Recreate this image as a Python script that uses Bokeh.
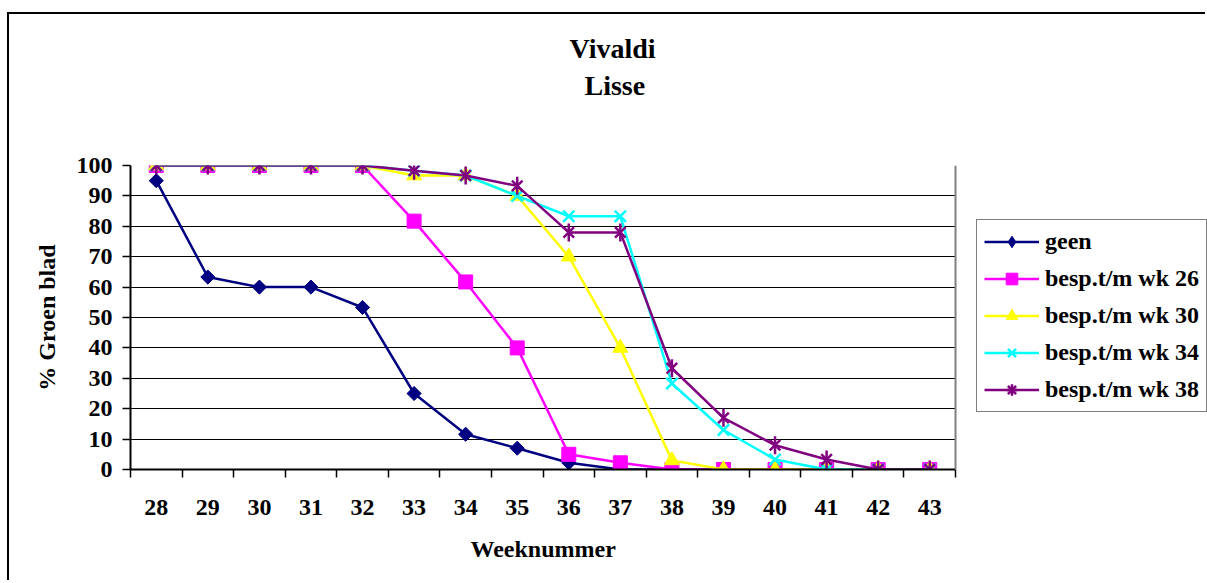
import numpy as np
from bokeh.plotting import figure
from bokeh.models import (Range1d, FixedTicker, Legend, LegendItem, Title, BoxAnnotation, Span)
from bokeh.embed import file_html
from bokeh.resources import INLINE

weeks = [28, 29, 30, 31, 32, 33, 34, 35, 36, 37, 38, 39, 40, 41, 42, 43]
geen = [95, 63.3, 60, 60, 53.3, 25, 11.6, 7, 2.2, 0, 0, 0, 0, 0, 0, 0]
wk26 = [100, 100, 100, 100, 100, 81.7, 61.7, 40, 5, 2.2, 0, 0, 0, 0, 0, 0]
wk30 = [100, 100, 100, 100, 100, 96.7, 96.7, 90, 70, 40, 3, 0, 0, 0, 0, 0]
wk34 = [100, 100, 100, 100, 100, 98.3, 96.7, 90, 83.3, 83.3, 28.3, 13, 3.3, 0, 0, 0]
wk38 = [100, 100, 100, 100, 100, 98.3, 96.7, 93.3, 78, 78, 33.3, 17, 8, 3.3, 0, 0]
series_names = ["geen", "besp.t/m wk 26", "besp.t/m wk 30", "besp.t/m wk 34", "besp.t/m wk 38"]
y_ticks = [0, 10, 20, 30, 40, 50, 60, 70, 80, 90, 100]
title_lines = ["Vivaldi", "Lisse"]
x_title = "Weeknummer"
y_title = "% Groen blad"

FONT = "Liberation Serif"

x_lo, x_hi = weeks[0] - 0.5, weeks[-1] + 0.5
# frame runs to the right edge; category area ends at x_hi (825 px of 1077 px)
x_end = x_lo + (x_hi - x_lo) * 1077 / 825

p = figure(width=1198, height=568, output_backend="svg", toolbar_location=None,
           x_range=Range1d(x_lo, x_end), y_range=Range1d(0, 100),
           min_border_left=121, min_border_right=0, min_border_top=151, min_border_bottom=113)
p.styles = {"border-left": "2px solid black", "border-top": "2px solid black",
            "margin-top": "12px", "margin-left": "7px"}
p.outline_line_color = None
p.background_fill_color = "white"
p.border_fill_color = "white"

# titles: above panels stack outward in list order, p.title is outermost
p.add_layout(Title(text=" ", text_font_size="1px", standoff=60), "above")  # spacer
p.add_layout(Title(text=title_lines[1], align="left", offset=454, standoff=4,
                   text_font=FONT, text_font_style="bold", text_font_size="28px",
                   text_color="black"), "above")
p.title.text = title_lines[0]
p.title.align = "left"
p.title.offset = 439
p.title.standoff = 4
p.title.text_font = FONT
p.title.text_font_style = "bold"
p.title.text_font_size = "28px"
p.title.text_color = "black"

# axes
p.xaxis.bounds = (x_lo, x_hi)
p.xaxis.ticker = FixedTicker(ticks=weeks, minor_ticks=[w - 0.5 for w in weeks] + [x_hi])
p.xaxis.major_tick_line_color = None
p.xaxis.minor_tick_out = 8
p.xaxis.minor_tick_in = 0
p.xaxis.minor_tick_line_color = "black"
p.xaxis.minor_tick_line_width = 1.5
p.xaxis.major_label_standoff = 22

p.yaxis.ticker = FixedTicker(ticks=y_ticks)
p.yaxis.major_tick_out = 8
p.yaxis.major_tick_in = 0
p.yaxis.minor_tick_line_color = None
p.yaxis.major_label_standoff = 10
p.yaxis.axis_label = y_title
p.yaxis.axis_label_standoff = 14

for ax in (p.xaxis, p.yaxis):
    ax.axis_line_color = "black"
    ax.axis_line_width = 2
    ax.major_tick_line_width = 1.5
    ax.major_label_text_font = FONT
    ax.major_label_text_font_style = "bold"
    ax.major_label_text_font_size = "24px"
    ax.major_label_text_color = "black"
    ax.axis_label_text_font = FONT
    ax.axis_label_text_font_style = "bold"
    ax.axis_label_text_font_size = "24px"
    ax.axis_label_text_color = "black"

# x-axis title, centred under the category area
p.add_layout(Title(text=x_title, align="left", offset=340, standoff=34, vertical_align="middle",
                   text_font=FONT, text_font_style="bold", text_font_size="24px",
                   text_color="black"), "below")

p.xgrid.grid_line_color = None
p.ygrid.ticker = FixedTicker(ticks=y_ticks)
p.ygrid.grid_line_color = "black"
p.ygrid.grid_line_width = 1

items = []
lw = 2.5
no_pt = np.array([np.nan])  # legend-only marker (draws nothing in the plot)

r1 = p.line(weeks, geen, line_color="#000080", line_width=lw)
m1 = p.scatter(weeks, geen, marker="square", angle=np.pi / 4, size=10,
               fill_color="#000080", line_color="#000080")
k1 = p.scatter(no_pt, no_pt, marker="diamond", size=19, fill_color="#000080", line_color="#000080")
items.append(LegendItem(label=series_names[0], renderers=[r1, k1]))

r2 = p.line(weeks, wk26, line_color="#FF00FF", line_width=lw)
m2 = p.scatter(weeks, wk26, marker="square", size=14,
               fill_color="#FF00FF", line_color="#FF00FF")
items.append(LegendItem(label=series_names[1], renderers=[r2, m2]))

r3 = p.line(weeks, wk30, line_color="#FFFF00", line_width=lw)
m3 = p.scatter(weeks, wk30, marker="triangle", size=15,
               fill_color="#FFFF00", line_color="#FFFF00")
items.append(LegendItem(label=series_names[2], renderers=[r3, m3]))

r4 = p.line(weeks, wk34, line_color="#00FFFF", line_width=lw)
m4 = p.scatter(weeks, wk34, marker="x", size=16, line_color="#00FFFF", line_width=2.5)
items.append(LegendItem(label=series_names[3], renderers=[r4, m4]))

r5 = p.line(weeks, wk38, line_color="#800080", line_width=lw)
m5 = p.scatter(weeks, wk38, marker="x", size=15, line_color="#800080", line_width=2.5)
m5b = p.scatter(weeks, wk38, marker="dash", angle=np.pi / 2, size=18, line_color="#800080", line_width=2.5)
k5 = p.scatter(no_pt, no_pt, marker="asterisk", size=17, line_color="#800080", line_width=2.5)
items.append(LegendItem(label=series_names[4], renderers=[r5, k5]))

# white cover right of the category area, gray right border of the plot area
p.add_layout(BoxAnnotation(left=x_hi, fill_color="white", fill_alpha=1, line_color=None))
p.add_layout(Span(location=x_hi, dimension="height", line_color="#808080", line_width=2))

legend = Legend(items=items, location=(846, 57))
legend.label_text_font = FONT
legend.label_text_font_style = "bold"
legend.label_text_font_size = "24px"
legend.label_text_color = "black"
legend.label_height = 29
legend.glyph_height = 29
legend.glyph_width = 55
legend.label_standoff = 6
legend.spacing = 8
legend.padding = 7
legend.margin = 0
legend.border_line_color = "black"
legend.border_line_width = 1
legend.background_fill_color = "white"
legend.background_fill_alpha = 1
p.add_layout(legend)

open("out.html", "w").write(file_html(p, INLINE))
